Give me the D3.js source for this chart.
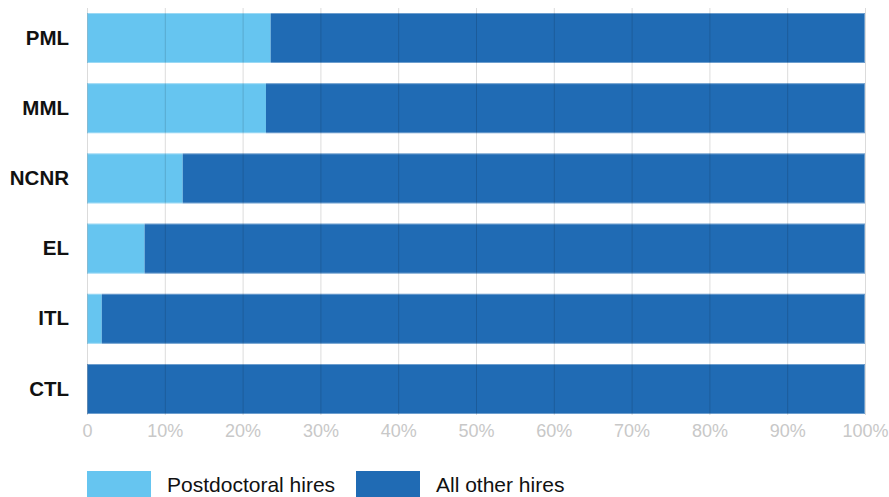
<!DOCTYPE html>
<html lang="en">
<head>
  <meta charset="UTF-8">
  <title>Postdoctoral hires share</title>
  <script src="https://d3js.org/d3.v7.min.js"></script>
  <style>
    body { margin: 0; background: #fff; }
    text { font-family: "Liberation Sans", Arial, sans-serif; }
  </style>
</head>
<body>
  <svg id="chart" width="889" height="497"></svg>
  <script>
    // data (percent of hires)
    const labs = ['PML', 'MML', 'NCNR', 'EL', 'ITL', 'CTL'];
    const postdoc = [23.6, 23.0, 12.3, 7.4, 1.9, 0];
    const other = postdoc.map(v => 100 - v);
    const ticks = [0, 10, 20, 30, 40, 50, 60, 70, 80, 90, 100];
    const seriesNames = ['Postdoctoral hires', 'All other hires'];
    const colors = ['#66c5f0', '#206bb4'];

    const svg = d3.select('#chart');

    const xScale = d3.scaleLinear().domain([0, 100]).range([87, 865]);
    const yScale = d3.scaleBand()
      .domain(labs)
      .range([2.9, 424.1])
      .paddingInner(0.288)
      .paddingOuter(0.144);

    const rows = labs.map((l, i) => ({ lab: l, p: postdoc[i], o: other[i] }));

    // bars
    const bars = svg.append('g');
    bars.selectAll('rect.post').data(rows)
      .join('rect').attr('class', 'post')
      .attr('fill', colors[0])
      .attr('x', xScale(0))
      .attr('y', d => yScale(d.lab))
      .attr('width', d => xScale(d.p) - xScale(0))
      .attr('height', yScale.bandwidth());
    bars.selectAll('rect.other').data(rows)
      .join('rect').attr('class', 'other')
      .attr('fill', colors[1])
      .attr('x', d => xScale(d.p))
      .attr('y', d => yScale(d.lab))
      .attr('width', d => xScale(100) - xScale(d.p))
      .attr('height', yScale.bandwidth());
    // faint light edge on the bars
    bars.selectAll('rect.edge').data(rows)
      .join('rect').attr('class', 'edge')
      .attr('fill', 'none')
      .attr('stroke', 'rgba(255,255,255,0.35)')
      .attr('stroke-width', 1)
      .attr('x', xScale(0) + 0.5)
      .attr('y', d => yScale(d.lab) + 0.5)
      .attr('width', xScale(100) - xScale(0) - 1)
      .attr('height', yScale.bandwidth() - 1);

    // gridlines drawn over the bars
    const grid = d3.axisBottom(xScale)
      .tickValues(ticks)
      .tickSize(407)
      .tickFormat('');
    svg.append('g')
      .attr('transform', 'translate(0,8)')
      .call(grid)
      .call(g => g.select('.domain').remove())
      .call(g => g.selectAll('line').attr('stroke', 'rgba(0,0,0,0.14)').attr('stroke-width', 1));

    // x tick labels
    const xAxis = d3.axisBottom(xScale)
      .tickValues(ticks)
      .tickSize(0)
      .tickPadding(0)
      .tickFormat(d => d === 0 ? '0' : d + '%');
    svg.append('g')
      .attr('transform', 'translate(0,437)')
      .call(xAxis)
      .call(g => g.select('.domain').remove())
      .call(g => g.selectAll('text')
        .attr('fill', '#c8c8c8')
        .attr('font-size', '18px')
        .attr('font-family', '"Liberation Sans", Arial, sans-serif')
        .attr('dy', '0'));

    // category labels
    const yAxis = d3.axisLeft(yScale).tickSize(0).tickPadding(0);
    svg.append('g')
      .attr('transform', 'translate(69,0)')
      .call(yAxis)
      .call(g => g.select('.domain').remove())
      .call(g => g.selectAll('text')
        .attr('fill', '#111')
        .attr('font-size', '20.5px')
        .attr('font-weight', 'bold')
        .attr('font-family', '"Liberation Sans", Arial, sans-serif'));

    // legend
    const legX = [87, 356];
    const legend = svg.append('g');
    legend.selectAll('rect').data(seriesNames)
      .join('rect')
      .attr('x', (d, i) => legX[i])
      .attr('y', 471)
      .attr('width', 64)
      .attr('height', 30)
      .attr('fill', (d, i) => colors[i]);
    legend.selectAll('text').data(seriesNames)
      .join('text')
      .attr('x', (d, i) => legX[i] + 80)
      .attr('y', 492)
      .attr('font-size', '21px')
      .attr('fill', '#111')
      .text(d => d);
  </script>
</body>
</html>
